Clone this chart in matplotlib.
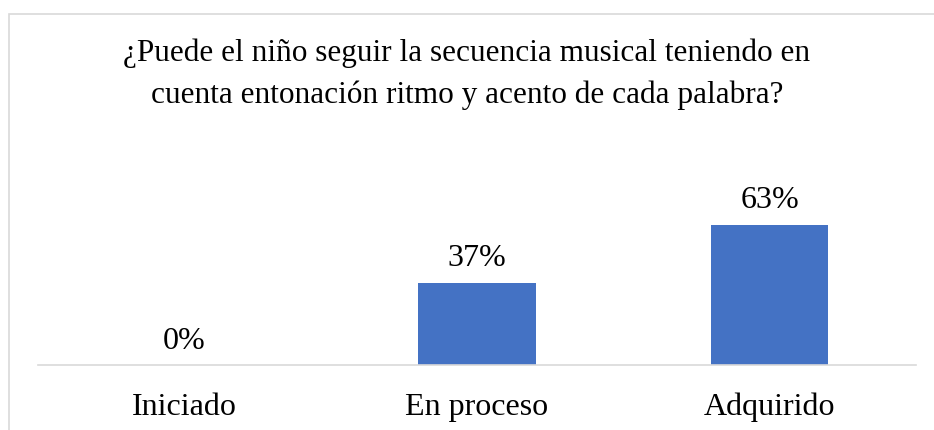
import matplotlib.pyplot as plt
from matplotlib.patches import Rectangle

categories = ['Iniciado', 'En proceso', 'Adquirido']
values = [0.0, 0.37, 0.63]
labels = ['0%', '37%', '63%']
title = ('¿Puede el niño seguir la secuencia musical teniendo en\n'
         'cuenta entonación ritmo y acento de cada palabra?')

plt.rcParams['font.family'] = ['Liberation Serif', 'DejaVu Serif']

fig = plt.figure(figsize=(9.34, 4.30), dpi=100)
W, H = 934, 430

# outer chart border (runs off the right and bottom edges)
fig.patches.append(Rectangle((8.5 / W, -0.1), 1.2, (H - 14) / H + 0.1,
                             transform=fig.transFigure, fill=False,
                             edgecolor='#d9d9d9', linewidth=1.2))

ax = fig.add_axes([38 / W, 65 / H, (916 - 38) / W, 156 / H])
x = range(len(categories))
ax.bar(x, values, width=0.4, color='#4472c4')
ax.set_ylim(0, 0.70)
ax.set_xlim(-0.5, 2.5)

for xi, v, lab in zip(x, values, labels):
    ax.annotate(lab, (xi, v), xytext=(0, 17), textcoords='offset points',
                ha='center', va='center', fontsize=23)

ax.set_xticks(list(x))
ax.set_xticklabels(categories, fontsize=23)
ax.tick_params(axis='x', length=0, pad=20)
ax.set_yticks([])
for s in ['top', 'left', 'right']:
    ax.spines[s].set_visible(False)
ax.spines['bottom'].set_color('#d9d9d9')
ax.spines['bottom'].set_linewidth(1.2)

fig.text(467 / W, 1 - 74 / H, title, ha='center', va='center',
         fontsize=22.5, linespacing=1.55)

fig.savefig('out.png', dpi=100)
